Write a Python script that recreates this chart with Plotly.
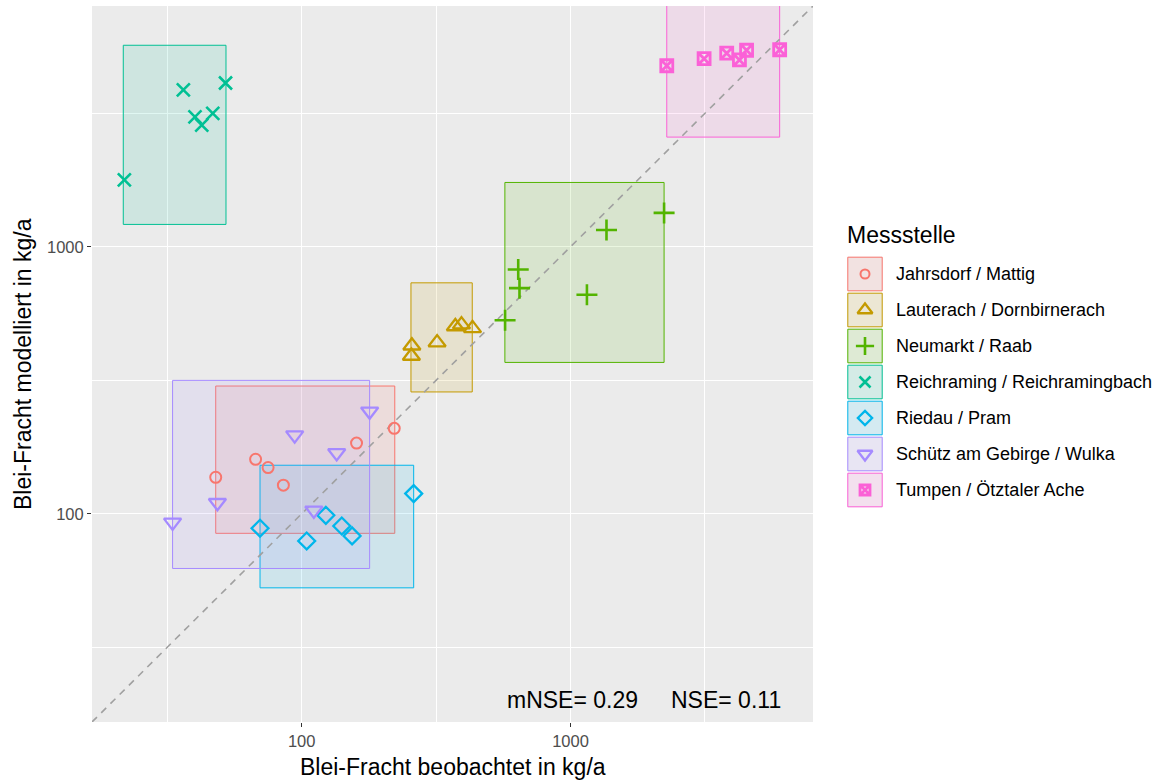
import math
import plotly.graph_objects as go

# ---------------- data ----------------
stations = ["Jahrsdorf / Mattig", "Lauterach / Dornbirnerach", "Neumarkt / Raab",
            "Reichraming / Reichramingbach", "Riedau / Pram",
            "Schütz am Gebirge / Wulka", "Tumpen / Ötztaler Ache"]

obs_jahrsdorf = [47.9, 67.4, 75, 85.5, 160, 221]
mod_jahrsdorf = [137, 160, 149, 128, 184, 209]
obs_lauterach = [257, 256, 319, 373, 393, 432]
mod_lauterach = [426, 390, 438, 503, 511, 495]
obs_neumarkt = [571, 646, 639, 1151, 1361, 2229]
mod_neumarkt = [531, 700, 822, 661, 1156, 1340]
obs_reichraming = [21.9, 36.3, 40.1, 42.5, 46.7, 52.1]
mod_reichraming = [1782, 3873, 3068, 2858, 3162, 4108]
obs_riedau = [70, 104.4, 123, 141, 154, 261]
mod_riedau = [88.3, 79.1, 98.7, 90, 82.6, 119]
obs_schuetz = [33.1, 48.6, 94.2, 135, 179, 111]
mod_schuetz = [92.9, 110, 197, 169, 242, 103]
obs_tumpen = [2281, 3140, 3811, 4250, 4518, 5998]
mod_tumpen = [4766, 5066, 5312, 5010, 5448, 5472]

# uncertainty boxes per station: [x_min, x_max], [y_min, y_max]
box_x = [[47.9, 222], [255, 431], [570, 2229], [21.7, 52.3], [70, 261], [33.1, 179], [2281, 5998]]
box_y = [[84.5, 301], [286, 733], [369, 1742], [1213, 5688], [52.8, 152], [62.4, 316], [2576, 9500]]

axis_limits = [16.6, 7980]
major_ticks = [100, 1000]
minor_ticks = [31.62, 316.2, 3162]
tick_labels = ["100", "1000"]
stats_text = ["mNSE= 0.29", "NSE= 0.11"]
x_title = "Blei-Fracht beobachtet in kg/a"
y_title = "Blei-Fracht modelliert in kg/a"
legend_title = "Messstelle"

obs_all = [obs_jahrsdorf, obs_lauterach, obs_neumarkt, obs_reichraming, obs_riedau, obs_schuetz, obs_tumpen]
mod_all = [mod_jahrsdorf, mod_lauterach, mod_neumarkt, mod_reichraming, mod_riedau, mod_schuetz, mod_tumpen]

# ---------------- style ----------------
colors = ["#F8766D", "#C49A00", "#53B400", "#00C094", "#00B6EB", "#A58AFF", "#FB61D7"]
symbols = ["circle-open", "triangle-up-open", "cross-thin-open", "x-thin-open",
           "diamond-open", "triangle-down-open", "square-x-open"]
sizes = [11, 15, 15, 13, 13, 15, 12]
line_w = [2, 2.3, 2.6, 2.6, 2.3, 2.3, 2.8]
FONT = "Liberation Sans, Arial, sans-serif"


def rgba(hex_color, a):
    h = hex_color.lstrip("#")
    return "rgba(%d,%d,%d,%.2f)" % (int(h[0:2], 16), int(h[2:4], 16), int(h[4:6], 16), a)


W, H = 1164, 782
ML, MR, MT, MB = 92, 0, 6, 60
plot_w = W - ML - MR
plot_h = H - MT - MB
panel_right_px = 813
main_dom = (panel_right_px - ML) / plot_w
leg_dom0 = (825 - ML) / plot_w
leg_px0 = ML + leg_dom0 * plot_w


def px_x(px):
    return (px - ML) / plot_w


def px_y(py):
    return (H - MB - py) / plot_h


fig = go.Figure()

# boxes
for i, name in enumerate(stations):
    x0, x1 = box_x[i]
    y0, y1 = box_y[i]
    fig.add_trace(go.Scatter(
        x=[x0, x1, x1, x0, x0], y=[y0, y0, y1, y1, y0],
        mode="lines", fill="toself", fillcolor=rgba(colors[i], 0.12),
        line=dict(color=colors[i], width=1), hoverinfo="skip", showlegend=False,
        xaxis="x", yaxis="y"))

# 1:1 line
fig.add_trace(go.Scatter(
    x=axis_limits, y=axis_limits, mode="lines",
    line=dict(color="#A0A0A0", width=1.6, dash="7px,6px"),
    hoverinfo="skip", showlegend=False, xaxis="x", yaxis="y"))

# points
for i, name in enumerate(stations):
    fig.add_trace(go.Scatter(
        x=obs_all[i], y=mod_all[i], mode="markers", name=name,
        marker=dict(symbol=symbols[i], size=sizes[i], color=colors[i],
                    line=dict(color=colors[i], width=line_w[i])),
        showlegend=False, xaxis="x", yaxis="y"))

# ---------------- custom legend (ggplot style keys) ----------------
row0, row_h, key_w, key_h = 274, 36, 35.4, 34.6
key_x0 = 847.3
shapes = []
annotations = []
for i, name in enumerate(stations):
    yc = row0 + i * row_h
    shapes.append(dict(type="rect", xref="x2", yref="y2",
                       x0=key_x0, x1=key_x0 + key_w, y0=yc - key_h / 2, y1=yc + key_h / 2,
                       fillcolor="#F2F2F2", line=dict(width=0), layer="below"))
    shapes.append(dict(type="rect", xref="x2", yref="y2",
                       x0=key_x0 + 0.5, x1=key_x0 + key_w - 0.5, y0=yc - key_h / 2 + 0.5,
                       y1=yc + key_h / 2 - 0.5,
                       fillcolor=rgba(colors[i], 0.12), line=dict(color=colors[i], width=1)))
    fig.add_trace(go.Scatter(
        x=[key_x0 + key_w / 2], y=[yc], mode="markers",
        marker=dict(symbol=symbols[i], size=sizes[i] - 2, color=colors[i],
                    line=dict(color=colors[i], width=line_w[i])),
        hoverinfo="skip", showlegend=False, xaxis="x2", yaxis="y2"))
    annotations.append(dict(xref="x2", yref="y2", x=894, y=yc, text=name,
                            showarrow=False, xanchor="left", yanchor="middle",
                            font=dict(family=FONT, size=18, color="black")))

annotations.append(dict(xref="x2", yref="y2", x=key_x0 - 2, y=235, text=legend_title,
                        showarrow=False, xanchor="left", yanchor="middle",
                        font=dict(family=FONT, size=23, color="black")))

# statistics text
annotations.append(dict(xref="paper", yref="paper", x=px_x(505), y=px_y(700),
                        text=stats_text[0], showarrow=False, xanchor="left", yanchor="middle",
                        font=dict(family=FONT, size=23, color="black")))
annotations.append(dict(xref="paper", yref="paper", x=px_x(669), y=px_y(700),
                        text=stats_text[1], showarrow=False, xanchor="left", yanchor="middle",
                        font=dict(family=FONT, size=23, color="black")))

# axis titles
annotations.append(dict(xref="paper", yref="paper", x=main_dom / 2, y=px_y(767),
                        text=x_title, showarrow=False, xanchor="center", yanchor="middle",
                        font=dict(family=FONT, size=23, color="black")))
annotations.append(dict(xref="paper", yref="paper", x=px_x(23), y=0.5, textangle=-90,
                        text=y_title, showarrow=False, xanchor="center", yanchor="middle",
                        font=dict(family=FONT, size=23, color="black")))

log_rng = [math.log10(axis_limits[0]), math.log10(axis_limits[1])]

axis_common = dict(
    type="log", range=log_rng, tickvals=major_ticks, ticktext=tick_labels,
    showgrid=True, gridcolor="white", gridwidth=1.2, zeroline=False,
    ticks="outside", ticklen=4, tickwidth=1, tickcolor="#333333",
    tickfont=dict(family=FONT, size=16.5, color="#4D4D4D"),
    minor=dict(tickvals=minor_ticks, showgrid=True, gridcolor="white", gridwidth=0.6, ticks=""),
    showline=False, fixedrange=True, automargin=False,
)

fig.update_layout(
    width=W, height=H,
    margin=dict(l=ML, r=MR, t=MT, b=MB, autoexpand=False),
    paper_bgcolor="white", plot_bgcolor="#EBEBEB",
    font=dict(family=FONT),
    showlegend=False,
    xaxis=dict(domain=[0, main_dom], anchor="y", **axis_common),
    yaxis=dict(domain=[0, 1], anchor="x", **axis_common),
    xaxis2=dict(domain=[leg_dom0, 1], range=[leg_px0, W], visible=False, anchor="y2", fixedrange=True),
    yaxis2=dict(domain=[0, 1], range=[H - MB, MT], visible=False, anchor="x2", fixedrange=True),
    shapes=shapes,
    annotations=annotations,
)
fig.add_shape(type="rect", xref="paper", yref="paper", x0=leg_dom0, x1=1, y0=0, y1=1,
              fillcolor="white", line=dict(width=0), layer="below")

fig.write_html("out.html", config={"displayModeBar": False},
               post_script="document.body.style.margin='0';document.body.style.overflow='hidden';")
